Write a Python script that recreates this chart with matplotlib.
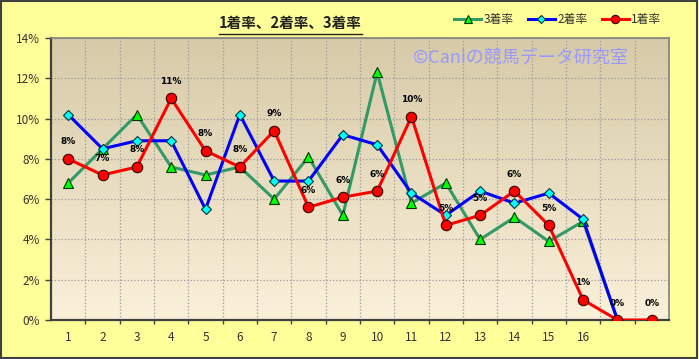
import numpy as np
import matplotlib
matplotlib.use("Agg")
import matplotlib.pyplot as plt
from matplotlib.lines import Line2D
from matplotlib.patches import Rectangle

plt.rcParams['font.family'] = ['Noto Sans CJK JP', 'DejaVu Sans']

categories = [str(i) for i in range(1, 17)] + ["", ""]
rate1 = [8.0, 7.2, 7.6, 11.0, 8.4, 7.6, 9.4, 5.6, 6.1, 6.4, 10.1, 4.7, 5.2, 6.4, 4.7, 1.0, 0.0, 0.0]
rate2 = [10.2, 8.5, 8.9, 8.9, 5.5, 10.2, 6.9, 6.9, 9.2, 8.7, 6.3, 5.2, 6.4, 5.8, 6.3, 5.0, 0.0, np.nan]
rate3 = [6.8, 8.5, 10.2, 7.6, 7.2, 7.6, 6.0, 8.1, 5.2, 12.3, 5.8, 6.8, 4.0, 5.1, 3.9, 4.9, 0.0, np.nan]
labels1 = ["8%", "7%", "8%", "11%", "8%", "8%", "9%", "6%", "6%", "6%", "10%", "5%", "5%", "6%", "5%", "1%", "0%", "0%"]
yticks = [0, 2, 4, 6, 8, 10, 12, 14]

fig = plt.figure(figsize=(6.99, 3.59), dpi=100)
fig.patch.set_facecolor('#FFFF99')
fig.patches.append(Rectangle((0.002, 0.003), 0.995, 0.994, transform=fig.transFigure,
                             fill=False, edgecolor='#404040', linewidth=1.5))

ax = fig.add_axes([0.073, 0.1086, 0.884, 0.7854])
x = np.arange(1, len(categories) + 1)

# background gradient of the plot area
grad = np.linspace(0, 1, 256).reshape(-1, 1)
top = np.array([214, 202, 168]) / 255.0
bot = np.array([251, 240, 217]) / 255.0
img = top[None, None, :] * (1 - grad[:, :, None]) + bot[None, None, :] * grad[:, :, None]
ax.imshow(img, extent=[0, 1, 0, 1], transform=ax.transAxes, aspect='auto', zorder=0)

ax.set_xlim(0.5, len(categories) + 0.5)
ax.set_ylim(0, 14)

ax.plot(x, rate3, color='#339966', lw=2.2, marker='^', ms=7, mfc='#00FF00', mec='#003300',
        mew=0.8, zorder=3)
ax.plot(x, rate2, color='#0000FF', lw=2.2, marker='D', ms=5.5, mfc='#00FFFF', mec='#003333',
        mew=0.8, zorder=4)
ax.plot(x, rate1, color='#FF0000', lw=2.2, marker='o', ms=7.5, mfc='#FF0000', mec='#330000',
        mew=0.8, zorder=5)

for xi, v, t in zip(x, rate1, labels1):
    ax.annotate(t, (xi, v), xytext=(0, 9), textcoords='offset points', ha='center',
                va='bottom', fontsize=6.5, fontweight='bold', family='DejaVu Sans', zorder=6)

ax.set_yticks(yticks)
ax.set_yticklabels([f"{v}%" for v in yticks], color='#333333', fontsize=8.5)
ax.set_xticks(x)
ax.set_xticklabels(categories, color='#333333', fontsize=8.5)
ax.tick_params(axis='x', length=0, pad=8)
ax.tick_params(axis='y', length=4, width=1, color='#404040', pad=4)
ax.set_xticks(np.arange(1.5, len(categories)), minor=True)
ax.tick_params(axis='x', which='minor', length=3, width=1, color='#404040', direction='out')
ax.grid(True, which='major', axis='y', color='#999999', ls=':', lw=0.9)
ax.grid(True, which='minor', axis='x', color='#999999', ls=':', lw=0.9)
ax.set_axisbelow(True)
for s in ['left', 'bottom']:
    ax.spines[s].set_color('#404040')
    ax.spines[s].set_linewidth(1.6)
for s in ['top', 'right']:
    ax.spines[s].set_color('#808080')
    ax.spines[s].set_linewidth(1.2)

ax.text(0.76, 0.929, "©Caniの競馬データ研究室", transform=ax.transAxes, ha='center',
        va='center', fontsize=13, color='#9999FF', zorder=2)

fig.text(0.415, 0.935, "1着率、2着率、3着率", ha='center', va='center', fontsize=10.5,
         fontweight='bold', color='#222222')
fig.add_artist(Line2D([0.313, 0.518], [0.905, 0.905], transform=fig.transFigure,
                      color='#222222', lw=1))

handles = [
    Line2D([], [], color='#339966', lw=2.2, marker='^', ms=6, mfc='#00FF00', mec='#003300', mew=0.8),
    Line2D([], [], color='#0000FF', lw=2.2, marker='D', ms=4, mfc='#00FFFF', mec='#003333', mew=0.8),
    Line2D([], [], color='#FF0000', lw=2.2, marker='o', ms=6, mfc='#FF0000', mec='#330000', mew=0.8),
]
fig.legend(handles, ["3着率", "2着率", "1着率"], loc='center', bbox_to_anchor=(0.798, 0.945),
           ncol=3, frameon=False, fontsize=8.5, handlelength=2.3, handletextpad=0.2,
           columnspacing=1.2, labelcolor='#333333')

fig.savefig("out.png", dpi=100, facecolor=fig.get_facecolor())
